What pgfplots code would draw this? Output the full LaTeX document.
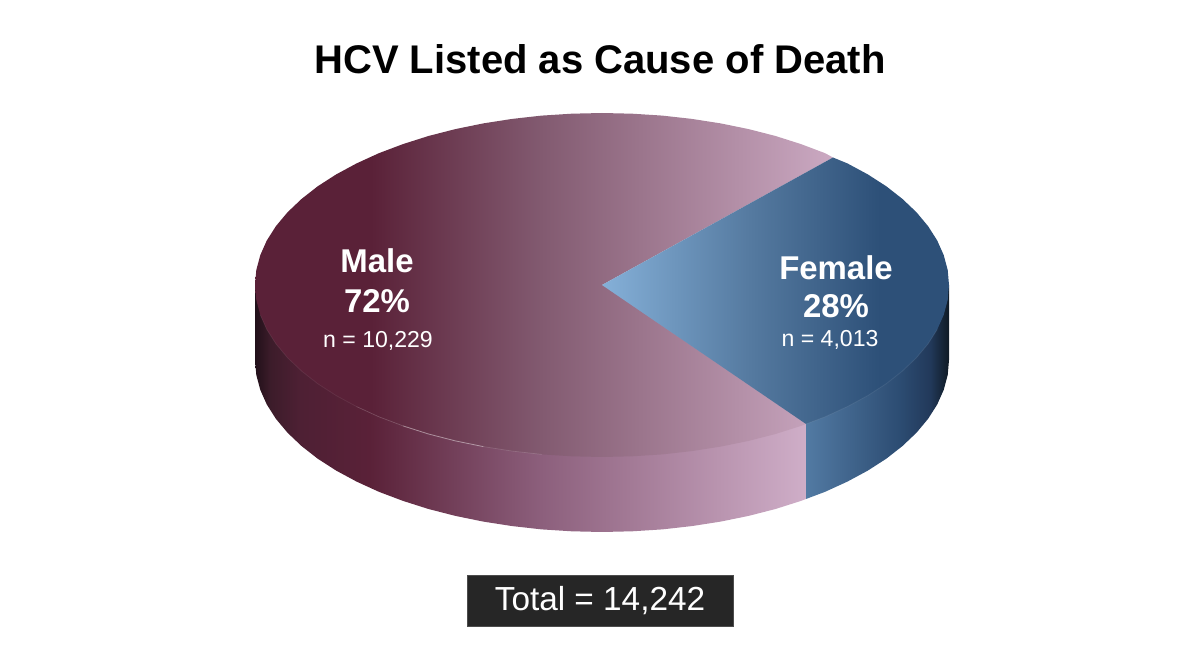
\documentclass[border=0pt]{standalone}
\usepackage{pgfplots}
\pgfplotsset{compat=1.18}
\usepackage{fontspec}
\setmainfont{Liberation Sans}
\definecolor{boxfill}{HTML}{262626}
\definecolor{maletopa}{HTML}{5A2138}
\definecolor{maletopb}{HTML}{825A70}
\definecolor{maletopc}{HTML}{CBA9C2}
\definecolor{malesidea}{HTML}{21101A}
\definecolor{malesideb}{HTML}{3C1C2A}
\definecolor{malesidec}{HTML}{4E2034}
\definecolor{malesided}{HTML}{8C5F7C}
\definecolor{malesidee}{HTML}{CFAEC8}
\definecolor{femtopa}{HTML}{85B0D8}
\definecolor{femtopb}{HTML}{557AA0}
\definecolor{femtopc}{HTML}{2D5078}
\definecolor{femsidea}{HTML}{527AA3}
\definecolor{femsideb}{HTML}{2C4C72}
\definecolor{femsidec}{HTML}{22395A}
\definecolor{femsided}{HTML}{0F1A24}
% Stops run from 25bp (left edge of the path) to 75bp (right edge)
\pgfdeclarehorizontalshading{maletop}{100bp}{color(0bp)=(maletopa); color(25bp)=(maletopa); color(35bp)=(maletopa); color(49.7bp)=(maletopb); color(75bp)=(maletopc); color(100bp)=(maletopc)}
\pgfdeclarehorizontalshading{maleside}{100bp}{color(0bp)=(malesidea); color(25bp)=(malesidea); color(26.4bp)=(malesideb); color(29.1bp)=(malesidec); color(35.4bp)=(maletopa); color(50.9bp)=(malesided); color(75bp)=(malesidee); color(100bp)=(malesidee)}
\pgfdeclarehorizontalshading{femaletop}{100bp}{color(0bp)=(femtopa); color(25bp)=(femtopa); color(46.3bp)=(femtopb); color(65bp)=(femtopc); color(75bp)=(femtopc); color(100bp)=(femtopc)}
\pgfdeclarehorizontalshading{femaleside}{100bp}{color(0bp)=(femsidea); color(25bp)=(femsidea); color(57.9bp)=(femsideb); color(68.4bp)=(femsidec); color(75bp)=(femsided); color(100bp)=(femsided)}
\begin{document}
\begin{tikzpicture}
\path[use as bounding box] (0,0) rectangle (900pt,498.75pt);
\begin{axis}[
  at={(0,0)}, anchor=south west,
  scale only axis, width=900pt, height=498.75pt,
  xmin=-602, xmax=598, ymin=-380, ymax=285,
  hide axis, clip=false,
]
% male side
\addplot[draw=none, shade, shading=maleside] coordinates {
(-347,0)(204,0)(204,-214)(199,-215.9)(173.5,-224)(146.6,-230.9)(118.7,-236.6)(89.8,-241.1)(60.2,-244.4)(30.3,-246.3)(0,-247)(-30.3,-246.3)(-60.2,-244.4)(-89.8,-241.1)(-118.7,-236.6)(-146.6,-230.9)(-173.5,-224)(-199,-215.9)(-223.1,-206.8)(-245.4,-196.6)(-265.8,-185.6)(-284.3,-173.7)(-300.5,-161)(-314.5,-147.7)(-326.1,-133.8)(-335.2,-119.5)(-341.7,-104.9)(-345.7,-90)(-347,-75)
} -- cycle;
% female side
\addplot[draw=none, shade, shading=femaleside] coordinates {
(204,0)(347,0)(347,-75)(345.7,-90)(341.7,-104.9)(335.2,-119.5)(326.1,-133.8)(314.5,-147.7)(300.5,-161)(284.3,-173.7)(265.8,-185.6)(245.4,-196.6)(223.1,-206.8)(204,-214)
} -- cycle;
% male top
\addplot[draw=none, shade, shading=maletop] coordinates {
(0,0)(231,127.5)(223.1,131.8)(199,140.9)(173.5,149)(146.6,155.9)(118.7,161.6)(89.8,166.1)(60.2,169.4)(30.3,171.3)(0,172)(-30.3,171.3)(-60.2,169.4)(-89.8,166.1)(-118.7,161.6)(-146.6,155.9)(-173.5,149)(-199,140.9)(-223.1,131.8)(-245.4,121.6)(-265.8,110.6)(-284.3,98.7)(-300.5,86)(-314.5,72.7)(-326.1,58.8)(-335.2,44.5)(-341.7,29.9)(-345.7,15)(-347,0)(-345.7,-15)(-341.7,-29.9)(-335.2,-44.5)(-326.1,-58.8)(-314.5,-72.7)(-300.5,-86)(-284.3,-98.7)(-265.8,-110.6)(-245.4,-121.6)(-223.1,-131.8)(-199,-140.9)(-173.5,-149)(-146.6,-155.9)(-118.7,-161.6)(-89.8,-166.1)(-60.2,-169.4)(-30.3,-171.3)(0,-172)(30.3,-171.3)(60.2,-169.4)(89.8,-166.1)(118.7,-161.6)(146.6,-155.9)(173.5,-149)(199,-140.9)(204,-139)
} -- cycle;
% female top
\addplot[draw=none, shade, shading=femaletop] coordinates {
(0,0)(231,127.5)(245.4,121.6)(265.8,110.6)(284.3,98.7)(300.5,86)(314.5,72.7)(326.1,58.8)(335.2,44.5)(341.7,29.9)(345.7,15)(347,0)(345.7,-15)(341.7,-29.9)(335.2,-44.5)(326.1,-58.8)(314.5,-72.7)(300.5,-86)(284.3,-98.7)(265.8,-110.6)(245.4,-121.6)(223.1,-131.8)(204,-139)
} -- cycle;
% rim highlights
\addplot[draw=white, line width=0.6pt, opacity=0.07] coordinates {(-341.7,-29.9)(-335.2,-44.5)(-326.1,-58.8)(-314.5,-72.7)(-300.5,-86)(-284.3,-98.7)(-265.8,-110.6)(-245.4,-121.6)};
\addplot[draw=white, line width=0.5pt, opacity=0.2] coordinates {(-245.4,-121.6)(-223.1,-131.8)(-199,-140.9)};
\addplot[draw=white, line width=0.6pt, opacity=0.45] coordinates {(-199,-140.9)(-173.5,-149)(-146.6,-155.9)(-118.7,-161.6)};
\addplot[draw=white, line width=0.5pt, opacity=0.15] coordinates {(-118.7,-161.6)(-89.8,-166.1)(-60.2,-169.4)};
\addplot[draw=white, line width=0.6pt, opacity=0.08] coordinates {(335.2,-44.5)(326.1,-58.8)(314.5,-72.7)(300.5,-86)(284.3,-98.7)(265.8,-110.6)(245.4,-121.6)(223.1,-131.8)(204,-139)};
% labels
\node[anchor=base, text=black, font=\bfseries\fontsize{30}{34}\selectfont] at (axis cs:-2,211) {HCV Listed as Cause of Death};
\node[anchor=base, text=white, font=\bfseries\fontsize{24.7}{28}\selectfont] at (axis cs:-225,12) {Male};
\node[anchor=base, text=white, font=\bfseries\fontsize{24.7}{28}\selectfont] at (axis cs:-225,-28) {72\%};
\node[anchor=base, text=white, font=\fontsize{17.3}{20}\selectfont] at (axis cs:-224,-63) {n = 10,229};
\node[anchor=base, text=white, font=\bfseries\fontsize{24.7}{28}\selectfont] at (axis cs:234,5) {Female};
\node[anchor=base, text=white, font=\bfseries\fontsize{24.7}{28}\selectfont] at (axis cs:234,-33) {28\%};
\node[anchor=base, text=white, font=\fontsize{17.3}{20}\selectfont] at (axis cs:228,-62) {n = 4,013};
\node[anchor=center, fill=boxfill, draw=black!70, line width=0.5pt, text=white, inner sep=0pt, minimum width=199.5pt, minimum height=38.25pt, font=\fontsize{25}{28}\selectfont] at (axis cs:-2,-315.5) {Total = 14,242};
\end{axis}
\end{tikzpicture}
\end{document}
